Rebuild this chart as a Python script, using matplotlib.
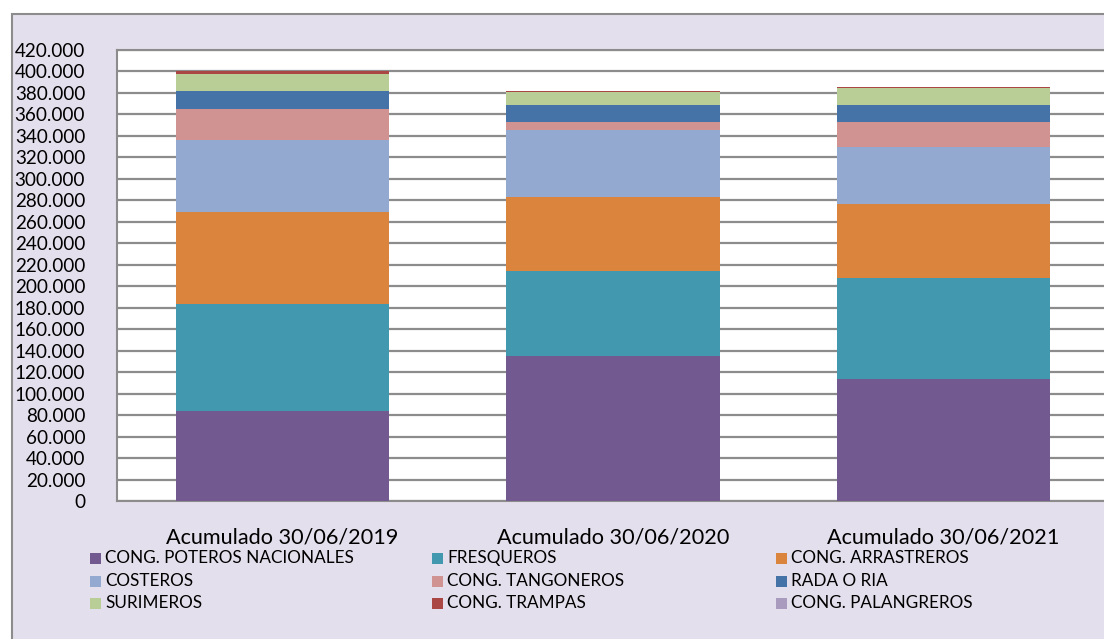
import matplotlib
matplotlib.use("Agg")
import matplotlib.pyplot as plt
from matplotlib.patches import Rectangle
from matplotlib.ticker import FuncFormatter

FONT = "Lato"

categorias = ["Acumulado 30/06/2019", "Acumulado 30/06/2020", "Acumulado 30/06/2021"]

# toneladas por flota (lectura del grafico)
poteros     = [84000, 135200, 113200]
fresqueros  = [99000, 78800, 94500]
arrastreros = [86100, 69100, 68900]
costeros    = [67300, 62600, 53000]
tangoneros  = [28700, 7500, 23000]
rada_ria    = [16300, 15200, 16100]
surimeros   = [16700, 12400, 15800]
trampas     = [1900, 1200, 900]
palangreros = [300, 200, 200]

series = [
    ("CONG. POTEROS NACIONALES", poteros, "#725990"),
    ("FRESQUEROS", fresqueros, "#4198AF"),
    ("CONG. ARRASTREROS", arrastreros, "#DB843D"),
    ("COSTEROS", costeros, "#93A9CF"),
    ("CONG. TANGONEROS", tangoneros, "#D19392"),
    ("RADA O RIA", rada_ria, "#4572A7"),
    ("SURIMEROS", surimeros, "#B9CD96"),
    ("CONG. TRAMPAS", trampas, "#AA4643"),
    ("CONG. PALANGREROS", palangreros, "#A99BBD"),
]

W, H = 1104, 639
fig = plt.figure(figsize=(W / 100, H / 100), dpi=100)
fig.patch.set_facecolor("white")

# fondo del area del grafico con borde
fig.patches.append(Rectangle((12 / W, -0.01), 1.05, 1 - 14 / H + 0.01,
                             transform=fig.transFigure, facecolor="#E4DFEC",
                             edgecolor="#8c8c8c", linewidth=1.5, zorder=-10))

ax = fig.add_axes([117 / W, 1 - 501 / H, (1109 - 117) / W, (501 - 50) / H])
ax.set_zorder(1)
ax.set_facecolor("white")

x = list(range(len(categorias)))
bottom = [0, 0, 0]
for name, vals, color in series:
    ax.bar(x, vals, width=0.645, bottom=bottom, color=color, label=name,
           zorder=3, linewidth=0)
    bottom = [b + v for b, v in zip(bottom, vals)]

ax.set_xlim(-0.5, 2.5)
ax.set_ylim(0, 420000)
ax.set_yticks(range(0, 420001, 20000))
ax.yaxis.set_major_formatter(FuncFormatter(lambda v, p: f"{int(v):,}".replace(",", ".")))
ax.set_xticks(x)
ax.set_xticklabels(categorias)
ax.yaxis.grid(True, color="#8c8c8c", linewidth=1.6, zorder=1)
ax.set_axisbelow(True)
ax.tick_params(axis="both", length=0)
ax.tick_params(axis="y", pad=23, labelsize=13.6)
ax.tick_params(axis="x", pad=19, labelsize=15.6)
for lab in ax.get_xticklabels() + ax.get_yticklabels():
    lab.set_fontfamily(FONT)
for side in ["left", "top", "bottom"]:
    ax.spines[side].set_color("#8c8c8c")
    ax.spines[side].set_linewidth(1.5)
ax.spines["right"].set_visible(False)

# leyenda manual, 3 columnas, orden por filas
col_x = [90, 432, 776]
row_y = [558, 581, 603]
for i, (name, _, color) in enumerate(series):
    cx = col_x[i % 3]
    cy = row_y[i // 3]
    fig.patches.append(Rectangle((cx / W, 1 - (cy + 5.5) / H), 11 / W, 11 / H,
                                 transform=fig.transFigure, facecolor=color,
                                 edgecolor="none", zorder=2))
    fig.text((cx + 15) / W, 1 - cy / H, name, fontsize=12.3, family=FONT,
             va="center", ha="left")

fig.savefig("out.png", dpi=100, facecolor=fig.get_facecolor())
